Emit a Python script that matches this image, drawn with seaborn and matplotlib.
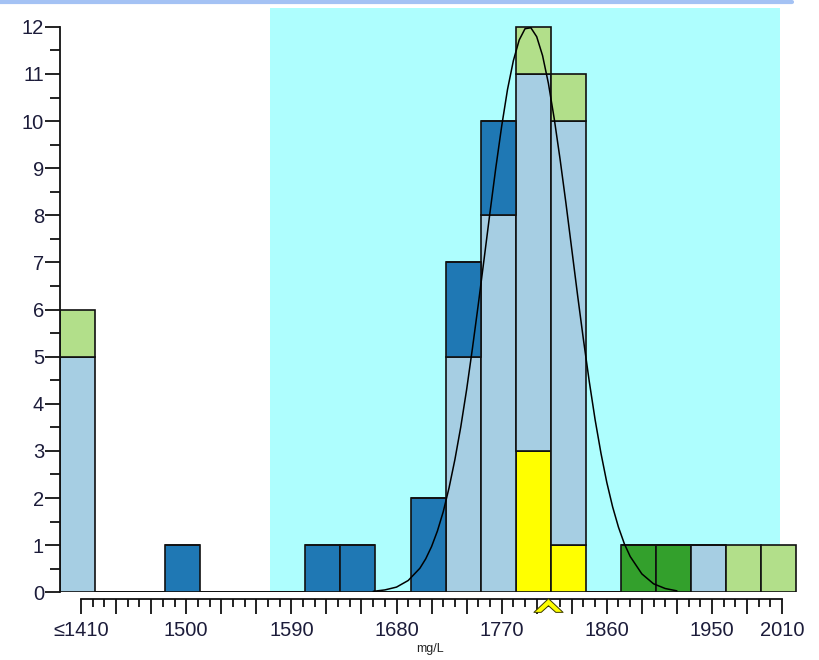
import numpy as np
import pandas as pd
import matplotlib
matplotlib.use("Agg")
import matplotlib.pyplot as plt
import seaborn as sns
from matplotlib.lines import Line2D
from matplotlib.path import Path
from matplotlib.ticker import FixedLocator

# === Data ===
bin_width = 30
bin_start = 1392
bin_stop = 2022
bin_centers = [1407, 1497, 1617, 1647, 1707, 1737, 1767, 1797, 1827, 1887, 1917, 1947, 1977, 2007]

# counts per colour group, one value per bin centre
n_yellow     = [0, 0, 0, 0, 0, 0, 0, 3, 1, 0, 0, 0, 0, 0]
n_darkgreen  = [0, 0, 0, 0, 0, 0, 0, 0, 0, 1, 1, 0, 0, 0]
n_lightblue  = [5, 0, 0, 0, 0, 5, 8, 8, 9, 0, 0, 1, 0, 0]
n_darkblue   = [0, 1, 1, 1, 2, 2, 2, 0, 0, 0, 0, 0, 0, 0]
n_lightgreen = [1, 0, 0, 0, 0, 0, 0, 1, 1, 0, 0, 0, 1, 1]

# fitted curve, read point by point
curve_x = [1660, 1670, 1680, 1690, 1700, 1705, 1710, 1715, 1720, 1725, 1730, 1735,
           1740, 1745, 1750, 1755, 1760, 1765, 1770, 1775, 1780, 1785, 1790, 1795,
           1800, 1805, 1810, 1815, 1820, 1825, 1830, 1835, 1840, 1845, 1850, 1855,
           1860, 1865, 1870, 1875, 1880, 1890, 1900, 1910, 1920]
curve_y = [0.02, 0.05, 0.11, 0.25, 0.51, 0.71, 0.97, 1.30, 1.71, 2.22, 2.82, 3.51,
           4.30, 5.18, 6.11, 7.08, 8.06, 9.01, 9.89, 10.67, 11.28, 11.72, 11.96, 11.98,
           11.79, 11.39, 10.80, 10.05, 9.19, 8.26, 7.28, 6.30, 5.36, 4.47, 3.66, 2.95,
           2.33, 1.81, 1.38, 1.03, 0.76, 0.39, 0.18, 0.08, 0.03]

spec_low, spec_high = 1572, 2008
mean_marker = 1810

tick_labelled = [1410, 1500, 1590, 1680, 1770, 1860, 1950, 2010]
x_label = "mg/L"

# === Build long table for seaborn ===
groups = {
    "lightgreen": n_lightgreen,
    "darkblue": n_darkblue,
    "lightblue": n_lightblue,
    "darkgreen": n_darkgreen,
    "yellow": n_yellow,
}
palette = {
    "lightgreen": "#b2df8a",
    "darkblue": "#1f78b4",
    "lightblue": "#a6cee3",
    "darkgreen": "#33a02c",
    "yellow": "#ffff00",
}
rows = []
for g, counts in groups.items():
    for c, n in zip(bin_centers, counts):
        rows.append({"value": c, "group": g, "count": n})
df = pd.DataFrame(rows)

# === Plot ===
sns.set_style("ticks")
plt.rcParams["font.family"] = ["Liberation Sans", "DejaVu Sans"]

fig = plt.figure(figsize=(8.19, 6.60), dpi=100)
ax = fig.add_axes([0.0733, 0.1026, 0.903, 0.8853])

ax.axvspan(spec_low, spec_high, color="#aefefe", lw=0, zorder=0)

sns.histplot(data=df, x="value", weights="count", hue="group",
             hue_order=list(groups.keys()), palette=palette,
             multiple="stack", binwidth=bin_width, binrange=(bin_start, bin_stop),
             alpha=1, edgecolor="#111111", linewidth=1.2, legend=False, ax=ax, zorder=2)

sns.lineplot(x=curve_x, y=curve_y, color="black", lw=1.1, ax=ax, zorder=4)

# mean chevron under the axis
chev = Path([(0, 0.47), (1, -0.47), (0.5, -0.47), (0, -0.02),
             (-0.5, -0.47), (-1, -0.47), (0, 0.47)],
            [Path.MOVETO] + [Path.LINETO] * 5 + [Path.CLOSEPOLY])
ax.plot([mean_marker], [-0.022], transform=ax.get_xaxis_transform(),
        marker=chev, markersize=21, color="#ffff00", markeredgecolor="#3a3a00",
        markeredgewidth=0.7, linestyle="none", clip_on=False, zorder=6)

ax.set_xlim(bin_start, bin_stop + 3)
ax.set_ylim(0, 12.4)

# axes styling
for s in ["top", "right"]:
    ax.spines[s].set_visible(False)
ax.spines["left"].set_bounds(0, 12)
ax.spines["bottom"].set_bounds(tick_labelled[0], tick_labelled[-1])
ax.spines["bottom"].set_position(("outward", 4.5))
for s in ["left", "bottom"]:
    ax.spines[s].set_linewidth(1.3)
    ax.spines[s].set_color("#111111")

major_x = list(range(tick_labelled[0], tick_labelled[-1] + 1, 30))
ax.xaxis.set_major_locator(FixedLocator(major_x))
ax.set_xticklabels([("≤%d" % t if t == tick_labelled[0] else str(t)) if t in tick_labelled else ""
                    for t in major_x])
ax.xaxis.set_minor_locator(FixedLocator(list(range(tick_labelled[0], tick_labelled[-1] + 1, 10))))
ax.yaxis.set_major_locator(FixedLocator(list(range(0, 13))))
ax.yaxis.set_minor_locator(FixedLocator([i + 0.5 for i in range(12)]))

ax.tick_params(axis="x", which="major", length=10.5, width=1.3, pad=5.5,
               labelsize=14.5, colors="#111111", labelcolor="#1c1c3a")
ax.tick_params(axis="x", which="minor", length=5.5, width=1.3, colors="#111111")
ax.tick_params(axis="y", which="major", length=11, width=1.3, pad=0.5,
               labelsize=14.5, colors="#111111", labelcolor="#1c1c3a")
ax.tick_params(axis="y", which="minor", length=7, width=1.3, colors="#111111")

ax.set_xlabel(x_label, fontsize=9, labelpad=2.5, color="#222222")
ax.set_ylabel("")

# thin decorative bar at the top of the frame
fig.add_artist(Line2D([0, 0.967], [0.997, 0.997], transform=fig.transFigure,
                      color="#a4c2f4", lw=3))

fig.savefig("out.png", dpi=100)
